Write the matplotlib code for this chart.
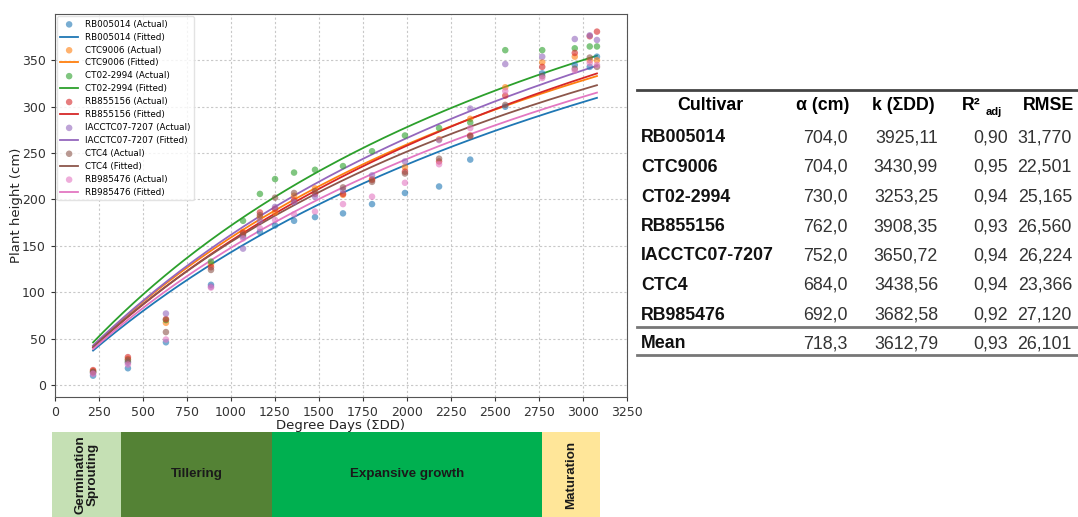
import numpy as np
import matplotlib.pyplot as plt

# cultivars and fitted parameters (y = a*x/(k+x))
cultivars = ['RB005014', 'CTC9006', 'CT02-2994', 'RB855156', 'IACCTC07-7207', 'CTC4', 'RB985476']
alpha = [704.0, 704.0, 730.0, 762.0, 752.0, 684.0, 692.0]
k_dd = [3925.11, 3430.99, 3253.25, 3908.35, 3650.72, 3438.56, 3682.58]
r2_adj = [0.90, 0.95, 0.94, 0.93, 0.94, 0.94, 0.92]
rmse = [31.770, 22.501, 25.165, 26.560, 26.224, 23.366, 27.120]

# measurement dates (accumulated degree days)
dd_obs = [218, 416, 632, 888, 1070, 1166, 1252, 1360, 1479, 1638, 1803, 1990,
          2184, 2361, 2560, 2770, 2955, 3040, 3081]

heights = {
    'RB005014':      [10, 18, 46, 108, 160, 165, 172, 177, 181, 185, 195, 207, 214, 243, 300, 336, 345, 343, 354],
    'CTC9006':       [15, 28, 67, 130, 165, 181, 186, 204, 212, 205, 222, 235, 265, 287, 321, 348, 354, 350, 350],
    'CT02-2994':     [14, 25, 70, 133, 177, 206, 222, 229, 232, 236, 252, 269, 277, 283, 361, 361, 363, 365, 365],
    'RB855156':      [16, 30, 71, 127, 164, 186, 190, 199, 206, 206, 221, 230, 241, 269, 312, 343, 358, 376, 381],
    'IACCTC07-7207': [13, 24, 77, 106, 147, 177, 192, 197, 203, 210, 226, 241, 264, 298, 346, 354, 373, 377, 372],
    'CTC4':          [14, 27, 57, 124, 162, 183, 202, 207, 209, 213, 219, 228, 244, 268, 302, 333, 341, 353, 343],
    'RB985476':      [12, 22, 49, 105, 158, 169, 178, 184, 187, 195, 203, 218, 238, 277, 317, 331, 339, 347, 345],
}

# crop phases along the degree-day axis
phase_names = ['Germination\nSprouting', 'Tillering', 'Expansive growth', 'Maturation']
phase_edges = [-15, 377, 1235, 2769, 3098]
phase_colors = ['#c5e0b4', '#548235', '#00b050', '#ffe699']
phase_rot = [90, 0, 0, 90]

W, H = 1078, 517
def fx(px):
    return px / W
def fy(py):
    return 1 - py / H

fig = plt.figure(figsize=(W / 100, H / 100), dpi=100)

ax = fig.add_axes([fx(54.7), fy(397), (626.7 - 54.7) / W, (397 - 14) / H])
colors = plt.rcParams['axes.prop_cycle'].by_key()['color']
xfit = np.linspace(dd_obs[0], dd_obs[-1], 200)
for i, name in enumerate(cultivars):
    c = colors[i]
    ax.scatter(dd_obs, heights[name], s=22, color=c, alpha=0.6, edgecolors='none',
               label=f'{name} (Actual)', zorder=3)
    ax.plot(xfit, alpha[i] * xfit / (k_dd[i] + xfit), color=c, lw=1.3,
            label=f'{name} (Fitted)', zorder=2)

ax.set_xlim(0, 3250)
ax.set_ylim(-13, 400)
ax.set_xticks(np.arange(0, 3251, 250))
ax.set_yticks(np.arange(0, 351, 50))
ax.tick_params(labelsize=9, colors='#333333', length=3)
for sp in ax.spines.values():
    sp.set_color('#555555')
ax.grid(True, linestyle=(0, (2, 2)), color='#c8c8c8', lw=0.8)
ax.set_axisbelow(True)
ax.set_xlabel('Degree Days (ΣDD)', fontsize=9.5, color='#222222', labelpad=0)
ax.set_ylabel('Plant height (cm)', fontsize=9.5, color='#222222', labelpad=-1)
leg = ax.legend(loc='upper left', fontsize=6.3, labelspacing=0.45, handlelength=2.0,
                borderaxespad=0.25, framealpha=0.8, edgecolor='#dddddd',
                borderpad=0.4)

# phase bar under the plot
pax = fig.add_axes([fx(52), 0, (600 - 52) / W, (517 - 432) / H])
pax.set_xlim(phase_edges[0], phase_edges[-1])
pax.set_ylim(0, 1)
pax.axis('off')
for i in range(len(phase_names)):
    x0, x1 = phase_edges[i], phase_edges[i + 1]
    pax.axvspan(x0, x1, color=phase_colors[i], lw=0)
    pax.text((x0 + x1) / 2, 0.5, phase_names[i], rotation=phase_rot[i],
             ha='center', va='center', fontsize=9.6, fontweight='bold',
             family='Liberation Sans', color='#1a1a1a', linespacing=1.0)

# parameter table
tf = 'Liberation Sans'
fs = 12.8
col_right = [None, 848, 938, 1008, 1072]
rows_y = [138, 167.5, 197, 226.5, 256, 285.5, 315]
mean_y = 344
head_y = 106

def fmt(v, nd):
    return f'{v:.{nd}f}'.replace('.', ',')

fig.add_artist(plt.Line2D([fx(637), fx(1078)], [fy(90), fy(90)], color='#444444', lw=2))
fig.add_artist(plt.Line2D([fx(637), fx(1078)], [fy(327), fy(327)], color='#777777', lw=2))
fig.add_artist(plt.Line2D([fx(637), fx(1078)], [fy(355), fy(355)], color='#777777', lw=2))

fig.text(fx(710), fy(head_y), 'Cultivar', ha='center', va='center', fontsize=fs,
         fontweight='bold', family=tf)
fig.text(fx(823), fy(head_y), 'α (cm)', ha='center', va='center', fontsize=fs,
         fontweight='bold', family=tf)
fig.text(fx(903), fy(head_y), 'k (ΣDD)', ha='center', va='center', fontsize=fs,
         fontweight='bold', family=tf)
fig.text(fx(962), fy(head_y), 'R²', ha='left', va='center', fontsize=fs,
         fontweight='bold', family=tf)
fig.text(fx(986), fy(head_y + 6), 'adj', ha='left', va='center', fontsize=8,
         fontweight='bold', family=tf)
fig.text(fx(1048), fy(head_y), 'RMSE', ha='center', va='center', fontsize=fs,
         fontweight='bold', family=tf)

def table_row(y, name, vals):
    fig.text(fx(641), fy(y), name, ha='left', va='center', fontsize=fs,
             fontweight='bold', family=tf, color='#111111')
    for j, v in enumerate(vals):
        fig.text(fx(col_right[j + 1]), fy(y), v, ha='right', va='center',
                 fontsize=fs, family=tf, color='#333333')

for i, name in enumerate(cultivars):
    table_row(rows_y[i], name, [fmt(alpha[i], 1), fmt(k_dd[i], 2),
                                fmt(r2_adj[i], 2), fmt(rmse[i], 3)])
table_row(mean_y, 'Mean', [fmt(np.mean(alpha), 1), fmt(np.mean(k_dd), 2),
                           fmt(np.mean(r2_adj), 2), fmt(np.mean(rmse), 3)])

fig.savefig('out.png', dpi=100)
